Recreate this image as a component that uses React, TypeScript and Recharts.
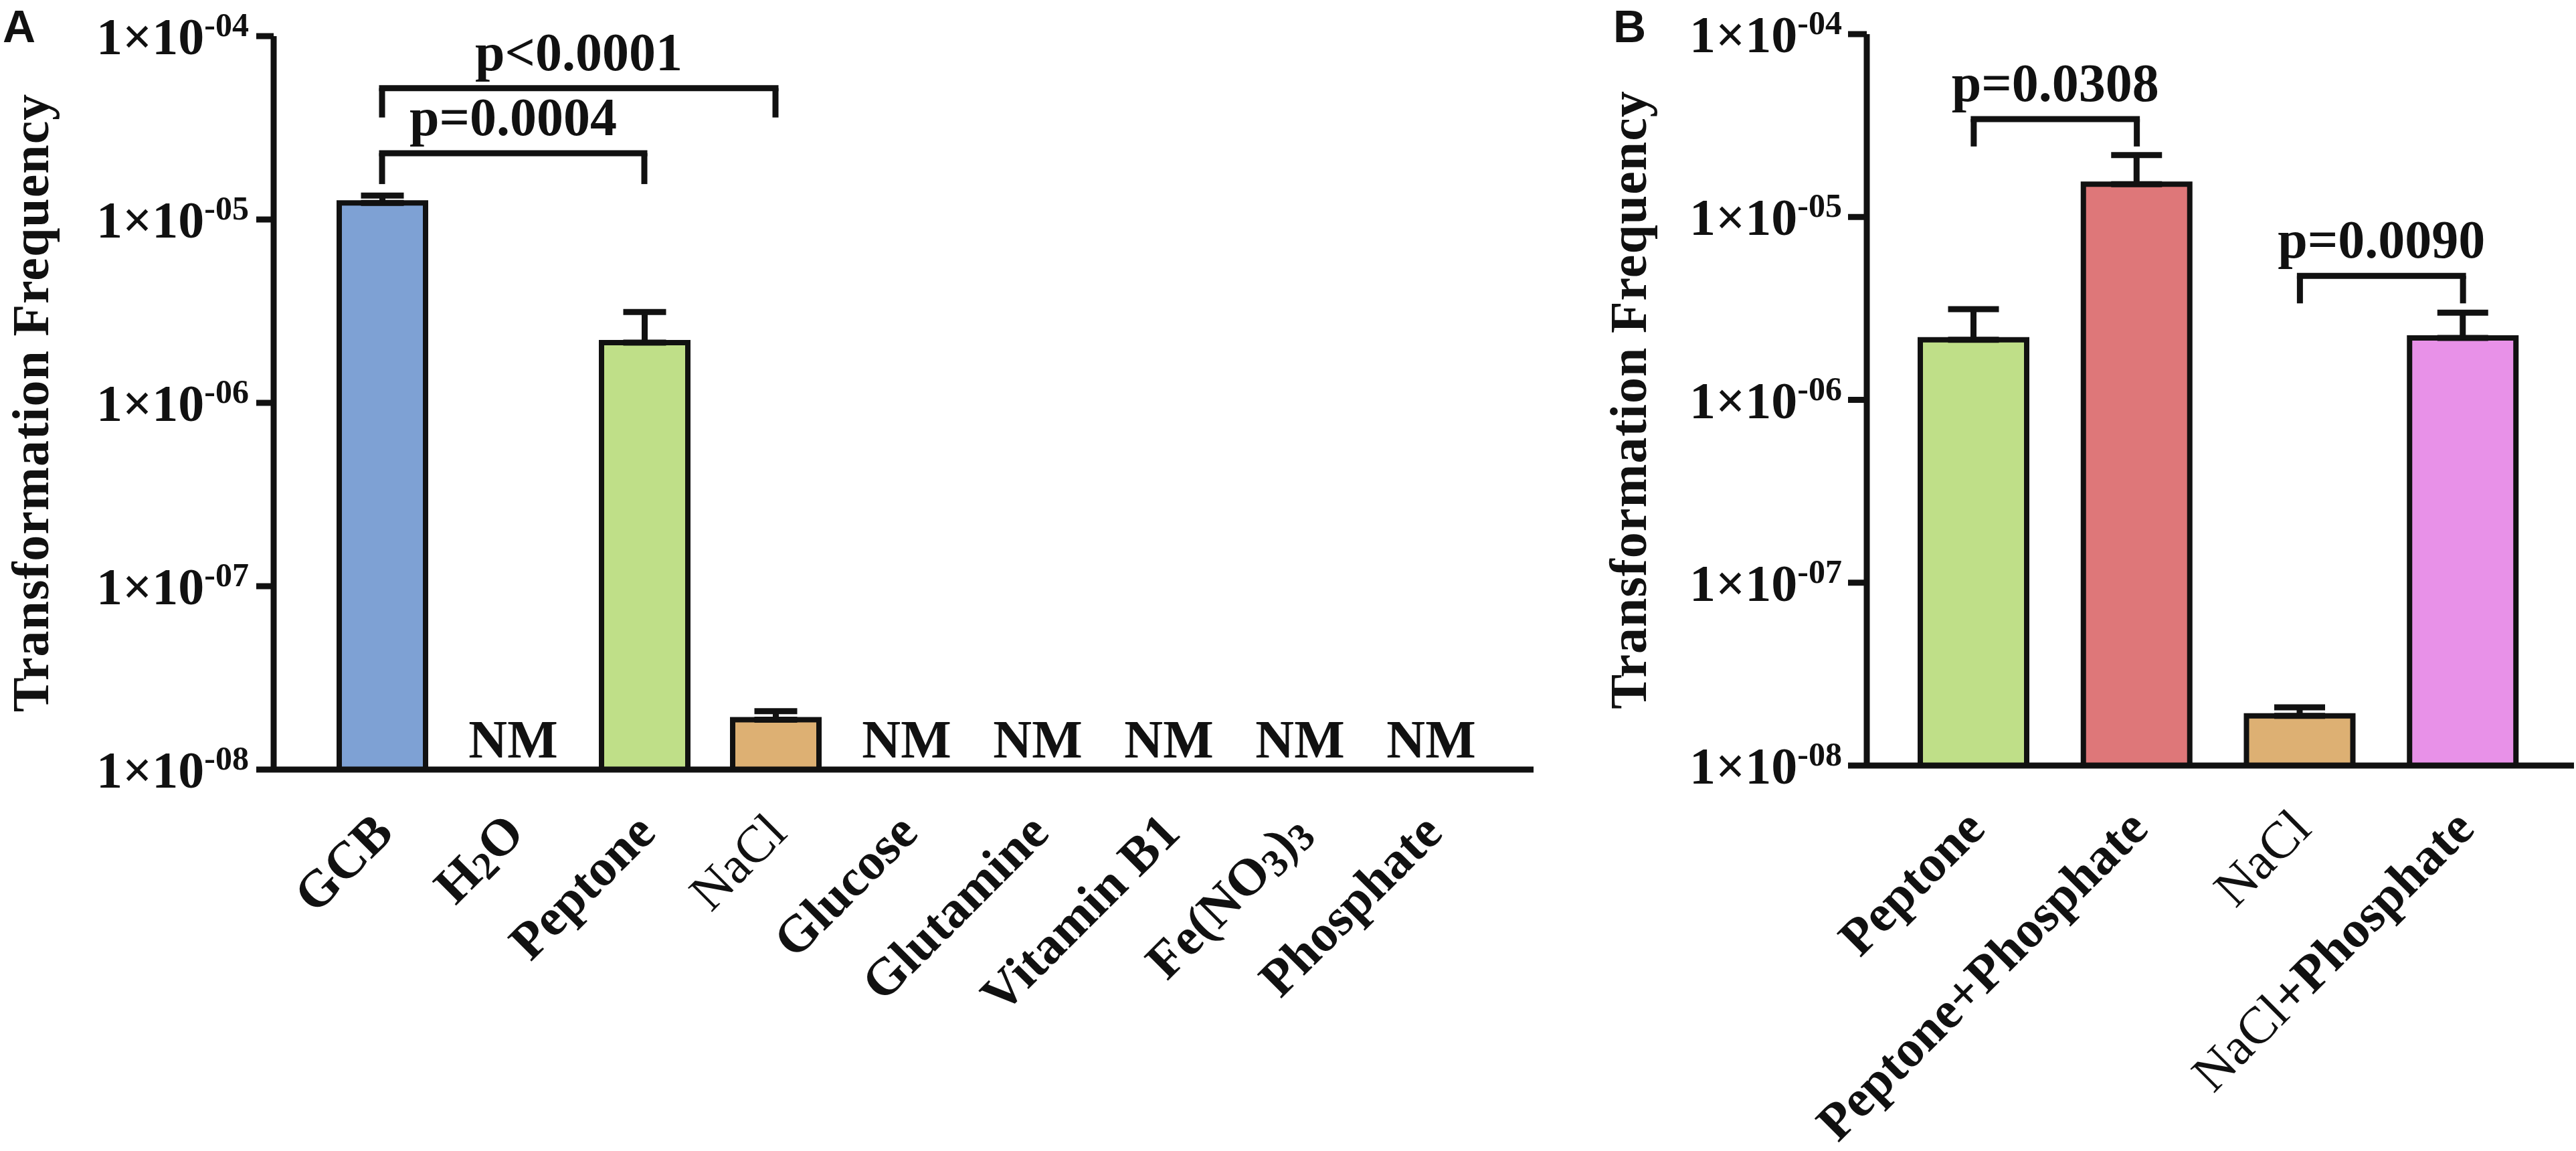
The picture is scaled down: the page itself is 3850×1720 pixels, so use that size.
import React from 'react';
import { BarChart, Bar, XAxis, YAxis, ErrorBar, Cell, ReferenceLine, ReferenceDot } from 'recharts';

const SERIF = '"Liberation Serif", "Times New Roman", Times, serif';
const SANS = '"Liberation Sans", Arial, Helvetica, sans-serif';
const INK = '#111111';

// ---------- Panel A data ----------
const categoriesA = ['GCB', 'H2O', 'Peptone', 'NaCl', 'Glucose', 'Glutamine', 'Vitamin B1', 'Fe(NO3)3', 'Phosphate'];
const meansA = [1.23e-5, null, 2.13e-6, 1.87e-8, null, null, null, null, null];
const upperA = [1.35e-5, null, 3.13e-6, 2.08e-8, null, null, null, null, null];
const colorsA = ['#7EA1D4', '#FFFFFF', '#BFDF88', '#DDB073', '#FFFFFF', '#FFFFFF', '#FFFFFF', '#FFFFFF', '#FFFFFF'];
const notMeasuredA = ['H2O', 'Glucose', 'Glutamine', 'Vitamin B1', 'Fe(NO3)3', 'Phosphate'];
const bracketsA = [
  { from: 'GCB', to: 'NaCl', top: 5.2e-5, foot: 3.6e-5, label: 'p<0.0001' },
  { from: 'GCB', to: 'Peptone', top: 2.3e-5, foot: 1.56e-5, label: 'p=0.0004' },
];

// ---------- Panel B data ----------
const categoriesB = ['Peptone', 'Peptone+Phosphate', 'NaCl', 'NaCl+Phosphate'];
const meansB = [2.13e-6, 1.51e-5, 1.87e-8, 2.18e-6];
const upperB = [3.13e-6, 2.18e-5, 2.08e-8, 3.0e-6];
const colorsB = ['#BFDF88', '#DE7779', '#DDB073', '#E891E8'];
const bracketsB = [
  { from: 'Peptone', to: 'Peptone+Phosphate', top: 3.43e-5, foot: 2.43e-5, label: 'p=0.0308' },
  { from: 'NaCl', to: 'NaCl+Phosphate', top: 4.76e-6, foot: 3.37e-6, label: 'p=0.0090' },
];

const yTicks = [1e-8, 1e-7, 1e-6, 1e-5, 1e-4];
const yDomain = [1e-8, 1e-4];
const yTitle = 'Transformation Frequency';

const buildRows = (cats: string[], means: (number | null)[], uppers: (number | null)[]) =>
  cats.map((name, i) => ({
    name,
    value: means[i],
    err: means[i] == null || uppers[i] == null ? null : [0, (uppers[i] as number) - (means[i] as number)],
  }));

const rowsA = buildRows(categoriesA, meansA, upperA);
const rowsB = buildRows(categoriesB, meansB, upperB);

const YTick = (props: any) => {
  const { x, y, payload } = props;
  const exp = Math.round(Math.log10(payload.value));
  const expStr = (exp < 0 ? '-' : '') + String(Math.abs(exp)).padStart(2, '0');
  return (
    <text x={x} y={y + 27} textAnchor="end" fill={INK} fontFamily={SERIF} fontWeight="bold" fontSize={78}>
      1×10
      <tspan dy={-27} fontSize={50}>{expStr}</tspan>
    </text>
  );
};

const tokenize = (name: string) =>
  name
    .split(/(NaCl|\d)/)
    .filter(Boolean)
    .map((t) => ({ t, light: t === 'NaCl', sub: /^\d$/.test(t) && !name.includes(' ') }));

const XTick = (props: any) => {
  const { x, y, payload } = props;
  const ax = x + 20;
  const ay = y + 98;
  const parts = tokenize(String(payload.value));
  let shifted = false;
  return (
    <text
      x={ax}
      y={ay}
      transform={`rotate(-45, ${ax}, ${ay})`}
      textAnchor="end"
      fill={INK}
      fontFamily={SERIF}
      fontWeight="bold"
      fontSize={78}
    >
      {parts.map((p, i) => {
        let dy = 0;
        if (p.sub && !shifted) {
          dy = 8;
          shifted = true;
        } else if (!p.sub && shifted) {
          dy = -8;
          shifted = false;
        }
        return (
          <tspan
            key={i}
            dy={dy || undefined}
            fontSize={p.sub ? 58 : 78}
            fontWeight={p.light ? 'normal' : 'bold'}
          >
            {p.t}
          </tspan>
        );
      })}
    </text>
  );
};

const YTitle = (props: any) => {
  const vb = props.viewBox || {};
  const cy = (vb.y ?? props.fallbackTop) + (vb.height ?? props.fallbackHeight) / 2;
  const x = props.baseX;
  return (
    <text
      x={x}
      y={cy}
      transform={`rotate(-90, ${x}, ${cy})`}
      textAnchor="middle"
      fill={INK}
      fontFamily={SERIF}
      fontWeight="bold"
      fontSize={78}
      letterSpacing={1}
    >
      {yTitle}
    </text>
  );
};

const pLabel = (value: string) => ({
  value,
  position: 'top' as const,
  offset: 27,
  fill: INK,
  fontSize: 80,
  fontWeight: 'bold',
  fontFamily: SERIF,
});

const renderBrackets = (list: typeof bracketsA) =>
  list.flatMap((b) => [
    <ReferenceLine
      key={b.label + '-h'}
      segment={[{ x: b.from, y: b.top }, { x: b.to, y: b.top }]}
      stroke={INK}
      strokeWidth={9}
      strokeLinecap="square"
      ifOverflow="visible"
      label={pLabel(b.label)}
    />,
    <ReferenceLine
      key={b.label + '-l'}
      segment={[{ x: b.from, y: b.top }, { x: b.from, y: b.foot }]}
      stroke={INK}
      strokeWidth={9}
      ifOverflow="visible"
    />,
    <ReferenceLine
      key={b.label + '-r'}
      segment={[{ x: b.to, y: b.top }, { x: b.to, y: b.foot }]}
      stroke={INK}
      strokeWidth={9}
      ifOverflow="visible"
    />,
  ]);

const axisLine = { stroke: INK, strokeWidth: 9 };

const letterStyle: React.CSSProperties = {
  position: 'absolute',
  top: 5,
  fontFamily: SANS,
  fontWeight: 'bold',
  fontSize: 68,
  lineHeight: '68px',
  color: INK,
};

export default function App() {
  return (
    <div style={{ position: 'absolute', left: 0, top: 0, width: 3850, height: 1720, background: '#ffffff', overflow: 'hidden' }}>
      {/* Panel A */}
      <div style={{ position: 'absolute', left: 0, top: 0 }}>
        <BarChart width={2300} height={1720} data={rowsA} margin={{ top: 54, right: 8, left: 0, bottom: 270 }}>
          <XAxis
            dataKey="name"
            type="category"
            interval={0}
            height={300}
            tickLine={false}
            tickSize={0}
            tickMargin={0}
            tick={<XTick />}
            axisLine={axisLine}
            padding={{ left: 64, right: 55 }}
          />
          <YAxis
            type="number"
            scale="log"
            domain={yDomain}
            ticks={yTicks}
            allowDataOverflow
            interval={0}
            width={409}
            tick={<YTick />}
            tickSize={26}
            tickMargin={11}
            axisLine={axisLine}
            tickLine={axisLine}
            label={<YTitle baseX={72} fallbackTop={54} fallbackHeight={1096} />}
          />
          <Bar dataKey="value" barSize={129} stroke={INK} strokeWidth={8} isAnimationActive={false}>
            {rowsA.map((r, i) => (
              <Cell key={r.name} fill={colorsA[i]} />
            ))}
            <ErrorBar dataKey="err" direction="y" width={32} stroke={INK} strokeWidth={9} isAnimationActive={false} />
          </Bar>
          {notMeasuredA.map((c) => (
            <ReferenceDot
              key={c}
              x={c}
              y={1e-8}
              r={0}
              fill="none"
              stroke="none"
              ifOverflow="visible"
              label={{ value: 'NM', position: 'top', offset: 18, fill: INK, fontSize: 80, fontWeight: 'bold', fontFamily: SERIF }}
            />
          ))}
          {renderBrackets(bracketsA)}
        </BarChart>
      </div>

      {/* Panel B */}
      <div style={{ position: 'absolute', left: 2350, top: 0 }}>
        <BarChart width={1500} height={1720} data={rowsB} margin={{ top: 51, right: 3, left: 0, bottom: 276 }}>
          <XAxis
            dataKey="name"
            type="category"
            interval={0}
            height={300}
            tickLine={false}
            tickSize={0}
            tickMargin={0}
            tick={<XTick />}
            axisLine={axisLine}
            padding={{ left: 38, right: 44 }}
          />
          <YAxis
            type="number"
            scale="log"
            domain={yDomain}
            ticks={yTicks}
            allowDataOverflow
            interval={0}
            width={440}
            tick={<YTick />}
            tickSize={28}
            tickMargin={9}
            axisLine={axisLine}
            tickLine={axisLine}
            label={<YTitle baseX={110} fallbackTop={51} fallbackHeight={1093} />}
          />
          <Bar dataKey="value" barSize={159} stroke={INK} strokeWidth={8} isAnimationActive={false}>
            {rowsB.map((r, i) => (
              <Cell key={r.name} fill={colorsB[i]} />
            ))}
            <ErrorBar dataKey="err" direction="y" width={38} stroke={INK} strokeWidth={9} isAnimationActive={false} />
          </Bar>
          {renderBrackets(bracketsB)}
        </BarChart>
      </div>

      {/* Panel letters */}
      <div style={{ ...letterStyle, left: 4 }}>A</div>
      <div style={{ ...letterStyle, left: 2411 }}>B</div>
    </div>
  );
}
